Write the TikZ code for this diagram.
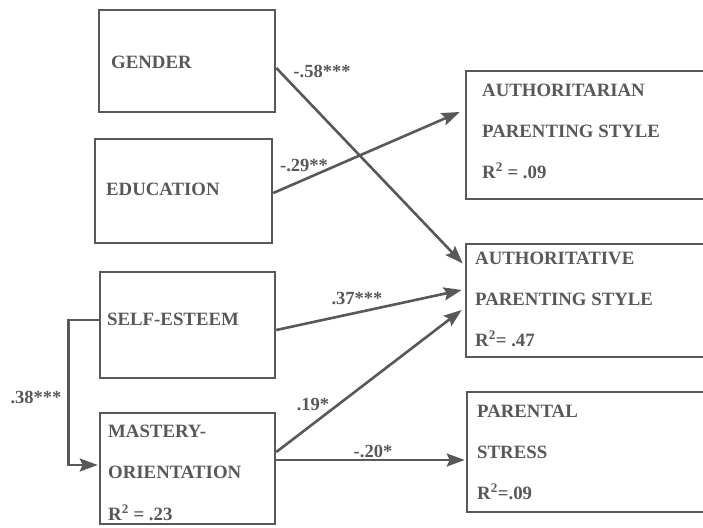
\documentclass[tikz,border=0pt]{standalone}
\usepackage{fontspec}
\setmainfont{Liberation Serif}
\usetikzlibrary{arrows.meta}
\definecolor{ink}{HTML}{585858}
\begin{document}
\begin{tikzpicture}[x=1pt,y=-1pt,
  box/.style={draw=ink, line width=2.6pt, rectangle, inner sep=0pt},
  lbl/.style={anchor=base west, inner sep=0pt, text=ink, font=\fontsize{18.8}{20}\selectfont\bfseries},
  coef/.style={anchor=center, inner sep=0pt, text=ink, font=\fontsize{18.5}{20}\selectfont\bfseries},
  path/.style={draw=ink, line width=2.6pt, -{Stealth[length=18pt,width=13pt,inset=3pt]}},
  link/.style={draw=ink, line width=2.6pt}]
\useasboundingbox (0,0) rectangle (703,527);
\clip (0,0) rectangle (703,527);
\fill[white] (0,0) rectangle (703,527);

% predictor boxes
\node[box, minimum width=176pt, minimum height=102pt] (gender) at (187,61) {};
\node[box, minimum width=177pt, minimum height=104pt] (education) at (183.5,191) {};
\node[box, minimum width=175pt, minimum height=106pt] (selfesteem) at (187.5,325) {};
\node[box, minimum width=175pt, minimum height=111pt] (mastery) at (187.5,468.5) {};
% outcome boxes, running off the right edge
\node[box, minimum width=249pt, minimum height=128pt] (authoritarian) at (590.5,135) {};
\node[box, minimum width=249pt, minimum height=113pt] (authoritative) at (590.5,300.5) {};
\node[box, minimum width=248pt, minimum height=120pt] (parental) at (591,452) {};

% box texts
\node[lbl] (tgender) at (111,68) {GENDER};
\node[lbl] (teducation) at (106,195) {EDUCATION};
\node[lbl] (tself) at (107,325) {SELF-ESTEEM};
\node[lbl] (tmast1) at (108,437) {MASTERY-};
\node[lbl] (tmast2) at (108,478) {ORIENTATION};
\node[lbl] (tmast3) at (108,520) {R\textsuperscript{2} = .23};
\node[lbl] (tauth1) at (482,96) {AUTHORITARIAN};
\node[lbl] (tauth2) at (482,137) {PARENTING STYLE};
\node[lbl] (tauth3) at (482,178) {R\textsuperscript{2} = .09};
\node[lbl] (ttive1) at (475,264) {AUTHORITATIVE};
\node[lbl] (ttive2) at (475,305) {PARENTING STYLE};
\node[lbl] (ttive3) at (475,346) {R\textsuperscript{2}= .47};
\node[lbl] (tpar1) at (477,417) {PARENTAL};
\node[lbl] (tpar2) at (477,458) {STRESS};
\node[lbl] (tpar3) at (477,499) {R\textsuperscript{2}=.09};

% paths
\draw[path] ([yshift=-7pt]gender.east) -- ([xshift=-2pt,yshift=37pt]authoritative.west);
\draw[path] ([yshift=-2pt]education.east) -- ([xshift=-5pt,yshift=23pt]authoritarian.west);
\draw[path] ([yshift=-5pt]selfesteem.east) -- ([xshift=-3pt,yshift=10.5pt]authoritative.west);
\draw[path] ([yshift=16.5pt]mastery.east) -- ([xshift=-3pt,yshift=-9.5pt]authoritative.west);
\draw[path] ([yshift=8.5pt]mastery.east) -- ([xshift=-1pt,yshift=-8pt]parental.west);
\draw[path] ([yshift=5pt]selfesteem.west) -- ++(-30pt,0) |- ([xshift=-1pt,yshift=3.5pt]mastery.west);

% path coefficients
\node[coef] (c58) at (322,71) {-.58***};
\node[coef] (c29) at (304,166) {-.29**};
\node[coef] (c37) at (357,299) {.37***};
\node[coef] (c38) at (36,397) {.38***};
\node[coef] (c19) at (313,405) {.19*};
\node[coef] (c20) at (373,451) {-.20*};
\end{tikzpicture}
\end{document}
